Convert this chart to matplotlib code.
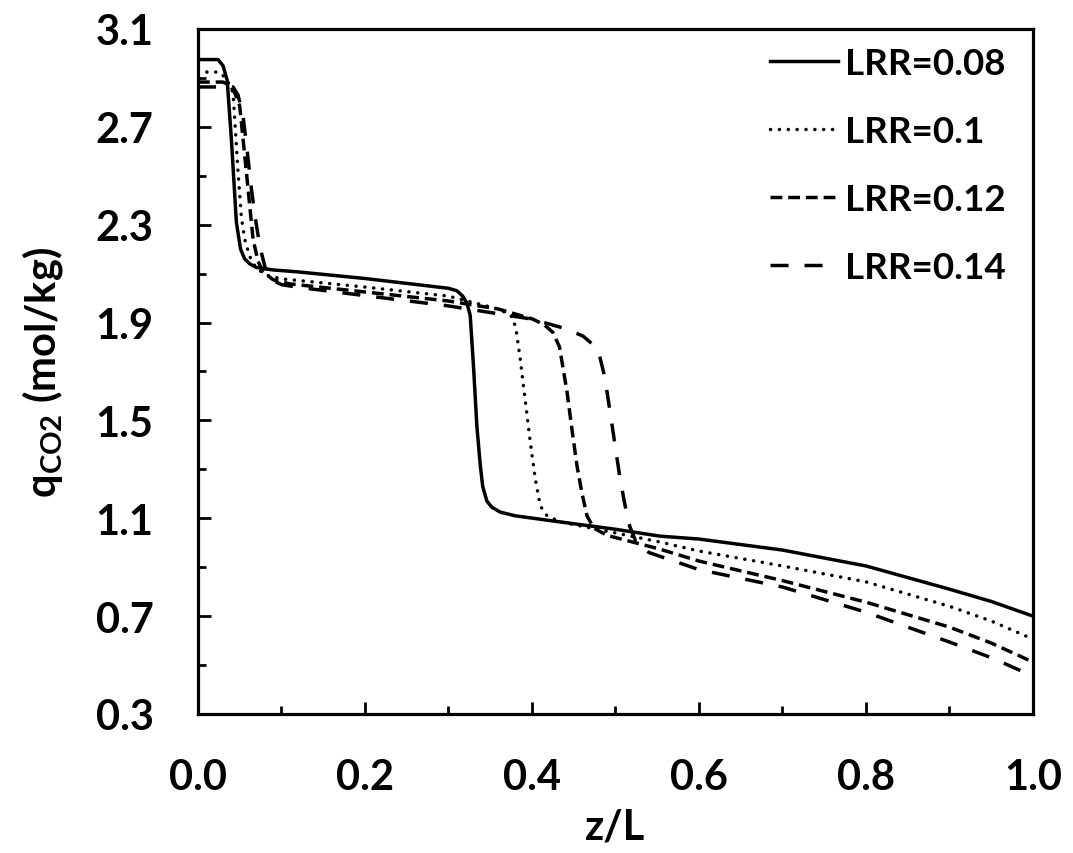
import matplotlib
matplotlib.use('Agg')
import matplotlib.pyplot as plt
import numpy as np
from matplotlib.ticker import MultipleLocator, FixedLocator, FormatStrFormatter

plt.rcParams['font.family'] = ['Lato', 'DejaVu Sans']
plt.rcParams['font.weight'] = 'bold'
plt.rcParams['mathtext.fontset'] = 'custom'
plt.rcParams['mathtext.rm'] = 'Lato:bold'

# LRR = 0.08
x_008 = [0, 0.024, 0.03, 0.035, 0.04, 0.046, 0.051, 0.056, 0.062, 0.07, 0.09, 0.12, 0.2, 0.3,
         0.31, 0.317, 0.322, 0.326, 0.33, 0.334, 0.338, 0.341, 0.346, 0.352, 0.362, 0.38,
         0.425, 0.5, 0.553, 0.6, 0.7, 0.8, 0.9, 0.95, 1.0]
q_008 = [2.975, 2.975, 2.95, 2.89, 2.65, 2.31, 2.2, 2.16, 2.14, 2.125, 2.115, 2.107, 2.08, 2.04,
         2.03, 2.008, 1.98, 1.93, 1.72, 1.477, 1.32, 1.23, 1.17, 1.145, 1.125, 1.11,
         1.089, 1.055, 1.027, 1.015, 0.97, 0.905, 0.81, 0.76, 0.70]

# LRR = 0.1
x_010 = [0, 0.025, 0.033, 0.038, 0.042, 0.048, 0.052, 0.056, 0.062, 0.07, 0.085, 0.102, 0.2, 0.3,
         0.36, 0.372, 0.377, 0.381, 0.386, 0.392, 0.398, 0.404, 0.41, 0.418, 0.434, 0.5,
         0.553, 0.6, 0.7, 0.8, 0.9, 0.95, 1.0]
q_010 = [2.924, 2.924, 2.9, 2.87, 2.84, 2.515, 2.33, 2.24, 2.17, 2.12, 2.09, 2.078, 2.045, 2.008,
         1.955, 1.935, 1.92, 1.87, 1.75, 1.58, 1.41, 1.26, 1.15, 1.11, 1.085, 1.04,
         1.003, 0.966, 0.905, 0.84, 0.74, 0.68, 0.606]

# LRR = 0.12
x_012 = [0, 0.03, 0.038, 0.044, 0.05, 0.058, 0.066, 0.072, 0.078, 0.09, 0.11, 0.2, 0.3, 0.36,
         0.401, 0.415, 0.425, 0.433, 0.442, 0.448, 0.454, 0.46, 0.466, 0.474, 0.49, 0.553,
         0.6, 0.7, 0.8, 0.9, 0.95, 1.0]
q_012 = [2.883, 2.883, 2.87, 2.84, 2.785, 2.515, 2.24, 2.15, 2.107, 2.075, 2.058, 2.025, 1.988, 1.955,
         1.914, 1.89, 1.86, 1.8, 1.616, 1.46, 1.313, 1.2, 1.109, 1.06, 1.03, 0.974,
         0.925, 0.845, 0.757, 0.655, 0.59, 0.512]

# LRR = 0.14
x_014 = [0, 0.042, 0.048, 0.054, 0.059, 0.064, 0.069, 0.074, 0.08, 0.086, 0.1, 0.118, 0.2, 0.3,
         0.4, 0.44, 0.461, 0.473, 0.481, 0.487, 0.493, 0.499, 0.505, 0.511, 0.517, 0.525,
         0.54, 0.6, 0.7, 0.8, 0.9, 0.95, 1.0]
q_014 = [2.863, 2.863, 2.83, 2.744, 2.6, 2.446, 2.32, 2.213, 2.13, 2.078, 2.055, 2.045, 2.01, 1.968,
         1.914, 1.875, 1.845, 1.81, 1.763, 1.68, 1.547, 1.41, 1.273, 1.16, 1.068, 1.0,
         0.96, 0.89, 0.819, 0.716, 0.594, 0.53, 0.455]

labels = ['LRR=0.08', 'LRR=0.1', 'LRR=0.12', 'LRR=0.14']

fig = plt.figure(figsize=(10.73, 8.54), dpi=100)
ax = fig.add_axes([0.1845, 0.1628, 0.7782, 0.8021])

lw = 2.5
ax.plot(x_008, q_008, color='black', lw=lw, ls='-', label=labels[0])
ax.plot(x_010, q_010, color='black', lw=lw, ls=(0, (0.05, 2.5)), dash_capstyle='round',
        label=labels[1])
ax.plot(x_012, q_012, color='black', lw=lw, ls=(0, (3.4, 1.7)), label=labels[2])
ax.plot(x_014, q_014, color='black', lw=lw, ls=(0, (5.2, 4.6)), label=labels[3])

ax.set_xlim(0, 1)
ax.set_ylim(0.3, 3.1)
ax.xaxis.set_major_locator(MultipleLocator(0.2))
ax.xaxis.set_minor_locator(MultipleLocator(0.1))
ax.set_yticks(np.arange(0.3, 3.11, 0.4))
ax.yaxis.set_minor_locator(FixedLocator(np.arange(0.5, 3.0, 0.4)))
ax.xaxis.set_major_formatter(FormatStrFormatter('%.1f'))
ax.yaxis.set_major_formatter(FormatStrFormatter('%.1f'))

ax.tick_params(which='major', direction='in', length=9, width=2, labelsize=30)
ax.tick_params(which='minor', direction='in', length=6, width=2)
ax.tick_params(axis='x', which='major', pad=32)
ax.tick_params(axis='y', which='major', pad=32)
for s in ax.spines.values():
    s.set_linewidth(2.3)

ax.set_xlabel('z/L', fontsize=30, fontweight='bold', labelpad=8)
ax.set_ylabel(r'q$_{\mathregular{CO2}}$ (mol/kg)', fontsize=30, fontweight='bold', labelpad=22)

ax.legend(loc='upper right', bbox_to_anchor=(0.99, 1.0), frameon=False, fontsize=26.5,
          handlelength=1.85, handletextpad=0.2, labelspacing=0.95, borderaxespad=0.1)

fig.savefig('out.png', dpi=100)
